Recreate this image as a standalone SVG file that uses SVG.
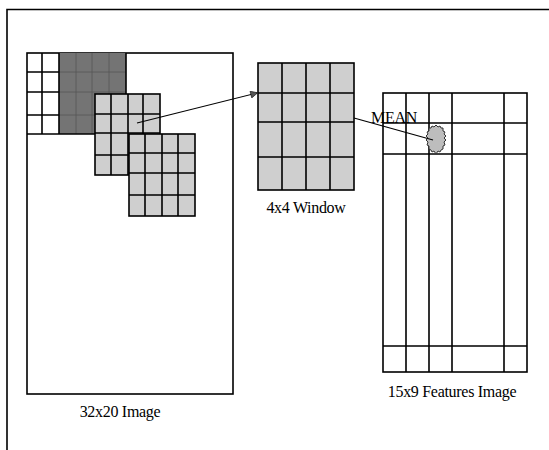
<svg xmlns="http://www.w3.org/2000/svg" width="549" height="450" viewBox="0 0 549 450">
<style>
.ln{fill:none;stroke:#000;stroke-width:1.6}
.thin{fill:none;stroke:#000;stroke-width:1.2}
.faint{fill:none;stroke:#555;stroke-width:0.8}
.lbl{font-family:"Liberation Serif",serif;font-size:16px;fill:#000;letter-spacing:-0.3px}
.light{fill:#cfcfcf;stroke:#000;stroke-width:1.6}
.dark{fill:#747474;stroke:none}
</style>
<defs>
<marker id="ah" viewBox="0 0 10 10" refX="9" refY="5" markerWidth="9" markerHeight="7" markerUnits="userSpaceOnUse" orient="auto">
<path d="M0,0 L10,5 L0,10 z" fill="#555" stroke="#000" stroke-width="0.8"/>
</marker>
</defs>
<rect x="0" y="0" width="549" height="450" fill="#fff"/>
<path class="ln" d="M7,450 V9.5 H549"/>

<g id="image32x20">
<rect class="ln" x="27" y="53" width="206" height="341"/>
<rect class="dark" x="59" y="53" width="67" height="81"/>
<path class="faint" d="M76,53 V134 M92,53 V134 M109,53 V134 M59,72 H126 M59,92 H126 M59,115 H126"/>
<path class="ln" d="M42,53 V134 M59,53 V134 M27,72 H59 M27,92 H59 M27,115 H59 M27,134 H126 M126,53 V94"/>
<text class="lbl" x="120" y="417" text-anchor="middle">32x20 Image</text>
</g>

<g id="window2">
<rect class="light" x="95" y="94" width="65" height="81"/>
<path class="ln" d="M111,94 V175 M128,94 V175 M143,94 V134 M95,114 H160 M95,133 H160 M95,155 H129"/>
</g>

<g id="window3">
<rect class="light" x="129" y="134" width="66" height="82"/>
<path class="ln" d="M145,134 V216 M162,134 V216 M178,134 V216 M129,153 H195 M129,173 H195 M129,195 H195"/>
</g>

<g id="window4x4">
<rect class="light" x="258" y="63" width="96" height="127" fill="#c9c9c9"/>
<path class="ln" d="M282,63 V190 M306,63 V190 M330,63 V190 M258,93 H354 M258,122 H354 M258,157 H354"/>
<text class="lbl" x="306" y="213" text-anchor="middle">4x4 Window</text>
</g>

<g id="features15x9">
<rect class="ln" x="383" y="93" width="144" height="279"/>
<path class="ln" d="M406,93 V372 M429,93 V372 M452,93 V372 M504,93 V372 M383,123 H527 M383,154 H527 M383,346 H527"/>
<polygon points="436,125 438,127 440,126 441,128 443,128 443,131 445,132 444,134 446,136 444,138 446,140 444,142 445,145 443,146 443,149 441,150 440,152 438,151 436,154 434,151 432,152 431,150 429,149 429,146 427,145 428,142 426,140 428,138 426,136 428,134 427,132 429,131 429,128 431,128 432,126 434,127" fill="#bdbdbd" stroke="#333" stroke-width="1"/>
<text class="lbl" x="452" y="397" text-anchor="middle">15x9 Features Image</text>
</g>

<g id="connectors">
<line class="thin" x1="137" y1="123" x2="257" y2="93" marker-end="url(#ah)"/>
<line class="thin" x1="354" y1="118" x2="433" y2="140"/>
<text class="lbl" x="371" y="123">MEAN</text>
</g>
</svg>
